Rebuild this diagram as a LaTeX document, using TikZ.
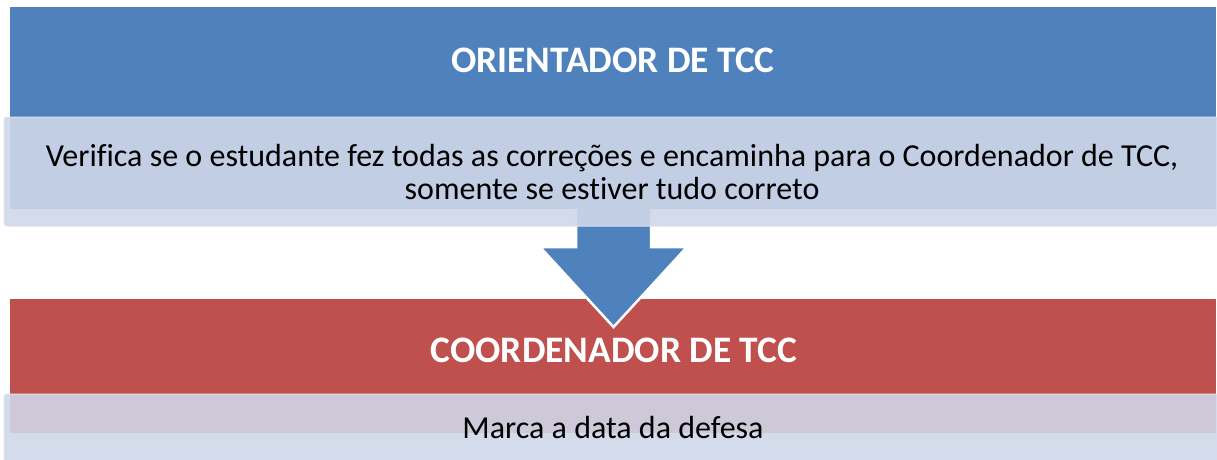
\documentclass[tikz,border=0pt]{standalone}
\usepackage{fontspec}
\setmainfont{Carlito}[Ligatures=NoCommon]
\definecolor{tblue}{RGB}{79,129,189}
\definecolor{tred}{RGB}{192,80,77}
\definecolor{tpanel}{RGB}{207,215,232}
\tikzset{
  panel/.style={fill=tpanel, fill opacity=0.9, draw=tpanel!70!white, line width=1pt, rounded corners=3pt},
  titletext/.style={text=white, font=\fontsize{37.4}{42}\selectfont\bfseries, inner sep=0pt},
  bodytext/.style={text=black, font=\fontsize{32}{33}\selectfont, align=center, inner sep=0pt},
  arrowfill/.style={fill=tblue},
  arrowedge/.style={draw=white, line width=2.5pt, line join=miter}
}
\begin{document}
\begin{tikzpicture}[x=1pt,y=-1pt]
\useasboundingbox (0,0) rectangle (1217,459);
% bands
\fill[tblue] (10,7) rectangle (1216,209);
\fill[tred] (10,299) rectangle (1216,433);
% arrow
\coordinate (sl) at (576,209);
\coordinate (sr) at (651,209);
\coordinate (hr) at (687,247);
\coordinate (hl) at (540,247);
\coordinate (tip) at (613.5,327);
\fill[arrowfill] (sl) -- (sr) -- (651,247) -- (hr) -- (tip) -- (hl) -- (576,247) -- cycle;
\draw[arrowedge] (sr) -- (651,247) -- (hr) -- (tip) -- (hl) -- (576,247) -- (sl);
% panels
\path[panel] (4,117) rectangle (1219,226);
\path[panel] (4,394) rectangle (1219,470);
% texts
\node[titletext] (t1) at (613,60) {ORIENTADOR DE TCC};
\node[bodytext] (b1) at (612,172) {Verifica se o estudante fez todas as correções e encaminha para o Coordenador de TCC,\\somente se estiver tudo correto};
\node[titletext] (t2) at (614,350) {COORDENADOR DE TCC};
\node[bodytext] (b2) at (613,427) {Marca a data da defesa};
\end{tikzpicture}
\end{document}
